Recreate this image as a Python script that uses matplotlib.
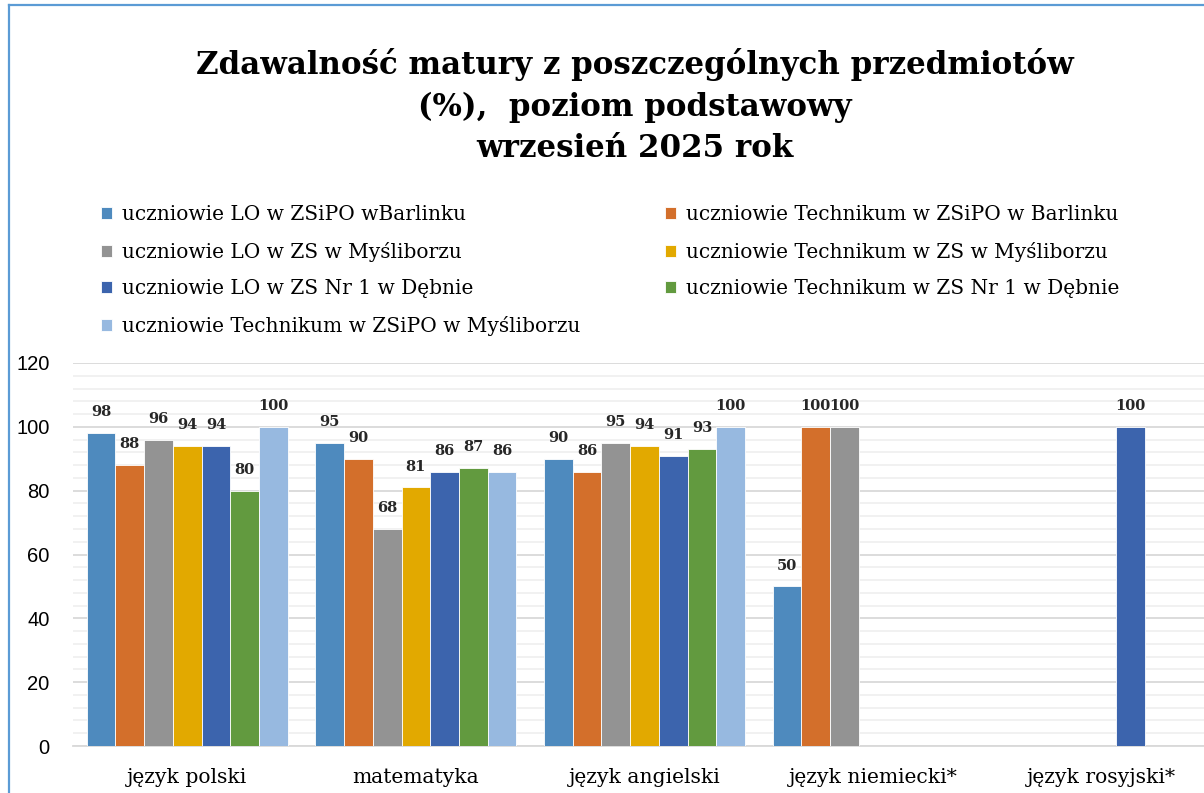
import numpy as np
import matplotlib.pyplot as plt
from matplotlib.lines import Line2D
from matplotlib.ticker import MultipleLocator

# Data
categories = ["język polski", "matematyka", "język angielski", "język niemiecki*", "język rosyjski*"]
series_names = [
    "uczniowie LO w ZSiPO wBarlinku",
    "uczniowie Technikum w ZSiPO w Barlinku",
    "uczniowie LO w ZS w Myśliborzu",
    "uczniowie Technikum w ZS w Myśliborzu",
    "uczniowie LO w ZS Nr 1 w Dębnie",
    "uczniowie Technikum w ZS Nr 1 w Dębnie",
    "uczniowie Technikum w ZSiPO w Myśliborzu",
]
lo_barlinek = [98, 95, 90, 50, np.nan]
tech_barlinek = [88, 90, 86, 100, np.nan]
lo_mysliborz = [96, 68, 95, 100, np.nan]
tech_mysliborz = [94, 81, 94, np.nan, np.nan]
lo_debno = [94, 86, 91, np.nan, 100]
tech_debno = [80, 87, 93, np.nan, np.nan]
tech_zsipo_mysliborz = [100, 86, 100, np.nan, np.nan]
series_values = [lo_barlinek, tech_barlinek, lo_mysliborz, tech_mysliborz,
                 lo_debno, tech_debno, tech_zsipo_mysliborz]
colors = ["#4e8abe", "#d36f2b", "#939393", "#e2a900", "#3c64ad", "#629a3f", "#97b9e0"]

serif = "DejaVu Serif"

fig = plt.figure(figsize=(12.04, 7.93), dpi=100)
ax = fig.add_axes([73 / 1204, 47 / 793, 1143 / 1204, 383 / 793])

x = np.arange(len(categories))
n = len(series_values)
width = 0.88 / n
handles = []
for i, (vals, col) in enumerate(zip(series_values, colors)):
    vals = np.array(vals, dtype=float)
    pos = x - 0.44 + width * (i + 0.5)
    mask = ~np.isnan(vals)
    bars = ax.bar(pos[mask], vals[mask], width, color=col, edgecolor="white",
                  linewidth=0.6, zorder=3)
    handles.append(bars)
    for p, v in zip(pos[mask], vals[mask]):
        ax.annotate(f"{v:.0f}", (p, v), xytext=(0, 15), textcoords="offset points",
                    ha="center", va="center", fontsize=10.5, fontweight="bold",
                    family=serif, color="#262626")

ax.set_xlim(-0.5, len(categories) - 0.5)
ax.set_ylim(0, 120)
ax.yaxis.set_major_locator(MultipleLocator(20))
ax.yaxis.set_minor_locator(MultipleLocator(4))
ax.grid(axis="y", which="major", color="#d9d9d9", linewidth=1.3, zorder=0)
ax.grid(axis="y", which="minor", color="#f0f0f0", linewidth=1.3, zorder=0)
for s in ["top", "right", "left"]:
    ax.spines[s].set_visible(False)
ax.spines["bottom"].set_color("#d9d9d9")
ax.spines["bottom"].set_linewidth(1.3)
ax.tick_params(axis="both", which="both", length=0)
ax.tick_params(axis="y", pad=17, labelsize=14.5, labelcolor="#000000")
for lab in ax.get_yticklabels():
    lab.set_family("Liberation Sans")
ax.set_xticks(x)
ax.set_xticklabels(categories, family=serif, fontsize=14.6)
ax.tick_params(axis="x", pad=16)

# legend in row-major order like the original
order = [0, 2, 4, 6, 1, 3, 5]
fig.legend([handles[k] for k in order], [series_names[k] for k in order],
           ncol=2, loc="upper left", bbox_to_anchor=(93 / 1204, 1 - 197 / 793),
           frameon=False, prop={"family": serif, "size": 14.5},
           handlelength=0.55, handleheight=0.55, handletextpad=0.5,
           labelspacing=0.88, columnspacing=4.2, borderaxespad=0)

fig.text(0.527, 1 - 106 / 793,
         "Zdawalność matury z poszczególnych przedmiotów\n(%),  poziom podstawowy\nwrzesień 2025 rok",
         ha="center", va="center", family=serif, fontweight="bold", fontsize=22.2,
         linespacing=1.42)

# frame lines of the source document
fig.add_artist(Line2D([9 / 1204, 9 / 1204], [0, 1 - 5 / 793], color="#5b9bd5", lw=1.6))
fig.add_artist(Line2D([9 / 1204, 1], [1 - 5 / 793, 1 - 5 / 793], color="#5b9bd5", lw=1.6))

fig.savefig("out.png", dpi=100)
